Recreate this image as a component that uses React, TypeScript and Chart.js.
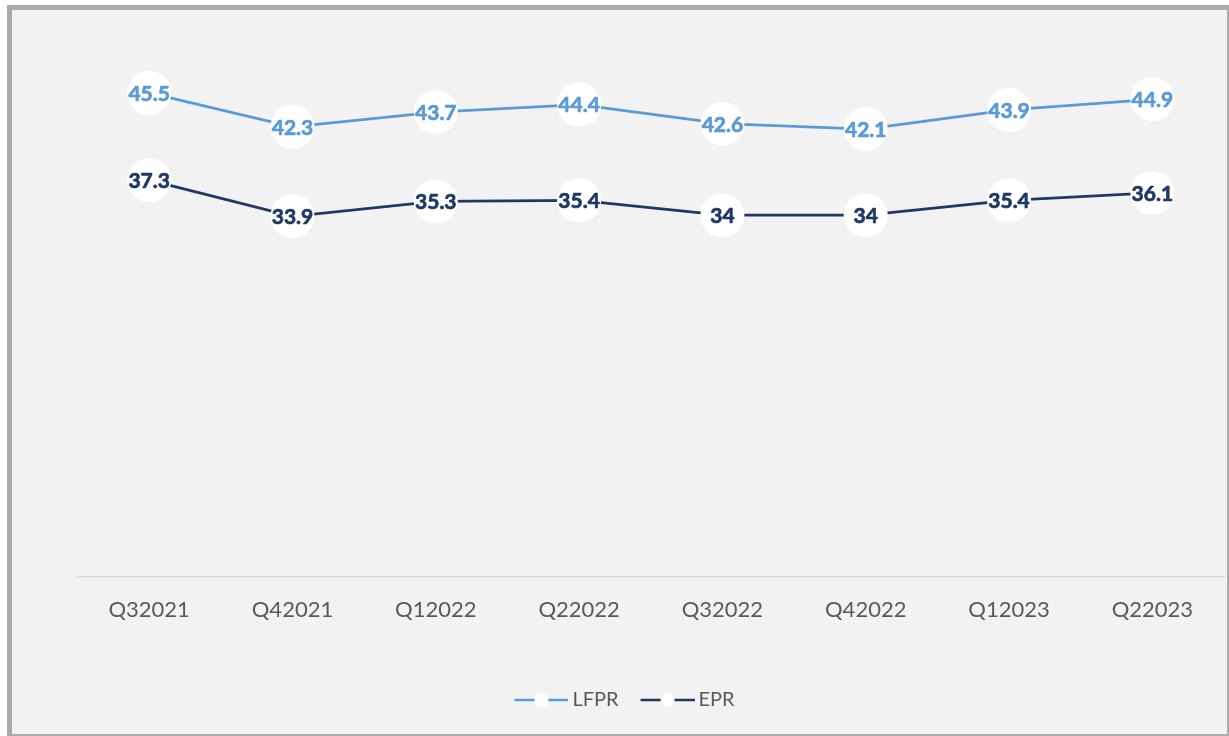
import React, { useEffect, useRef } from "react";
import { Chart, registerables } from "chart.js";

Chart.register(...registerables);

const categories = ["Q32021", "Q42021", "Q12022", "Q22022", "Q32022", "Q42022", "Q12023", "Q22023"];
const lfprValues = [45.5, 42.3, 43.7, 44.4, 42.6, 42.1, 43.9, 44.9];
const eprValues = [37.3, 33.9, 35.3, 35.4, 34, 34, 35.4, 36.1];
const seriesNames = ["LFPR", "EPR"];
const seriesColors = ["#5b9bd5", "#203864"];

function makeLegendIcon(color: string): HTMLCanvasElement {
  const c = document.createElement("canvas");
  c.width = 60;
  c.height = 16;
  const ctx = c.getContext("2d")!;
  ctx.strokeStyle = color;
  ctx.lineWidth = 2.5;
  ctx.beginPath();
  ctx.moveTo(6, 8);
  ctx.lineTo(60, 8);
  ctx.stroke();
  ctx.fillStyle = "#ffffff";
  ctx.beginPath();
  ctx.arc(33, 8, 7, 0, Math.PI * 2);
  ctx.fill();
  return c;
}

const labelPlugin = {
  id: "pointLabels",
  afterDatasetsDraw(chart: any) {
    const ctx = chart.ctx;
    ctx.save();
    ctx.font = "bold 21px Lato";
    ctx.textAlign = "center";
    ctx.textBaseline = "middle";
    ctx.lineWidth = 0.7;
    ctx.lineJoin = "round";
    chart.data.datasets.forEach((ds: any, i: number) => {
      const meta = chart.getDatasetMeta(i);
      ctx.fillStyle = ds.borderColor;
      ctx.strokeStyle = ds.borderColor;
      meta.data.forEach((pt: any, j: number) => {
        const t = String(ds.data[j]);
        ctx.fillText(t, pt.x, pt.y + 1);
        ctx.strokeText(t, pt.x, pt.y + 1);
      });
    });
    ctx.restore();
  },
};

export default function App() {
  const ref = useRef<HTMLCanvasElement>(null);
  useEffect(() => {
    const icons = seriesColors.map(makeLegendIcon);
    const chart = new Chart(ref.current!, {
      type: "line",
      data: {
        labels: categories,
        datasets: [lfprValues, eprValues].map((vals, i) => ({
          label: seriesNames[i],
          data: vals,
          borderColor: seriesColors[i],
          backgroundColor: seriesColors[i],
          borderWidth: 2.75,
          pointRadius: 22,
          pointHoverRadius: 22,
          pointBackgroundColor: "#ffffff",
          pointBorderColor: "#ffffff",
          pointBorderWidth: 0,
          tension: 0,
        })),
      },
      options: {
        responsive: false,
        animation: false,
        layout: { autoPadding: false, padding: { left: 13, right: 3, top: 35, bottom: 14 } },
        scales: {
          x: {
            offset: true,
            grid: { display: false, drawTicks: false },
            border: { display: true, color: "#d9d9d9", width: 1.5 },
            ticks: {
              color: "#595959",
              font: { family: "Lato", size: 22 },
              padding: 20,
              maxRotation: 0,
              autoSkip: false,
            },
            afterFit: (scale: any) => {
              scale.height = 91;
              scale.paddingLeft = 0;
              scale.paddingRight = 0;
            },
          },
          y: {
            display: true,
            min: 0,
            max: 50,
            grid: { display: false, drawTicks: false },
            border: { display: false },
            ticks: { display: false },
            afterFit: (scale: any) => {
              scale.width = 52.5;
            },
          },
        },
        plugins: {
          tooltip: { enabled: false },
          legend: {
            position: "bottom",
            labels: {
              usePointStyle: true,
              pointStyleWidth: 48,
              boxHeight: 16,
              padding: 22,
              color: "#595959",
              font: { family: "Lato", size: 20 },
              generateLabels: (ch: any) =>
                ch.data.datasets.map((ds: any, i: number) => ({
                  text: ds.label,
                  pointStyle: icons[i],
                  fillStyle: "transparent",
                  strokeStyle: "transparent",
                  lineWidth: 0,
                  fontColor: "#595959",
                  datasetIndex: i,
                  hidden: false,
                })),
            },
          },
        },
      },
      plugins: [labelPlugin],
    });
    return () => chart.destroy();
  }, []);
  return (
    <div
      style={{
        position: "fixed",
        left: 7,
        top: 5,
        width: 1215,
        height: 724,
        background: "#f2f2f2",
        borderLeft: "5px solid #aeaaaa",
        borderTop: "5px solid #aeaaaa",
        borderRight: "2px solid #aeaaaa",
        borderBottom: "2px solid #aeaaaa",
      }}
    >
      <canvas ref={ref} width={1215} height={724} style={{ display: "block" }} />
    </div>
  );
}
